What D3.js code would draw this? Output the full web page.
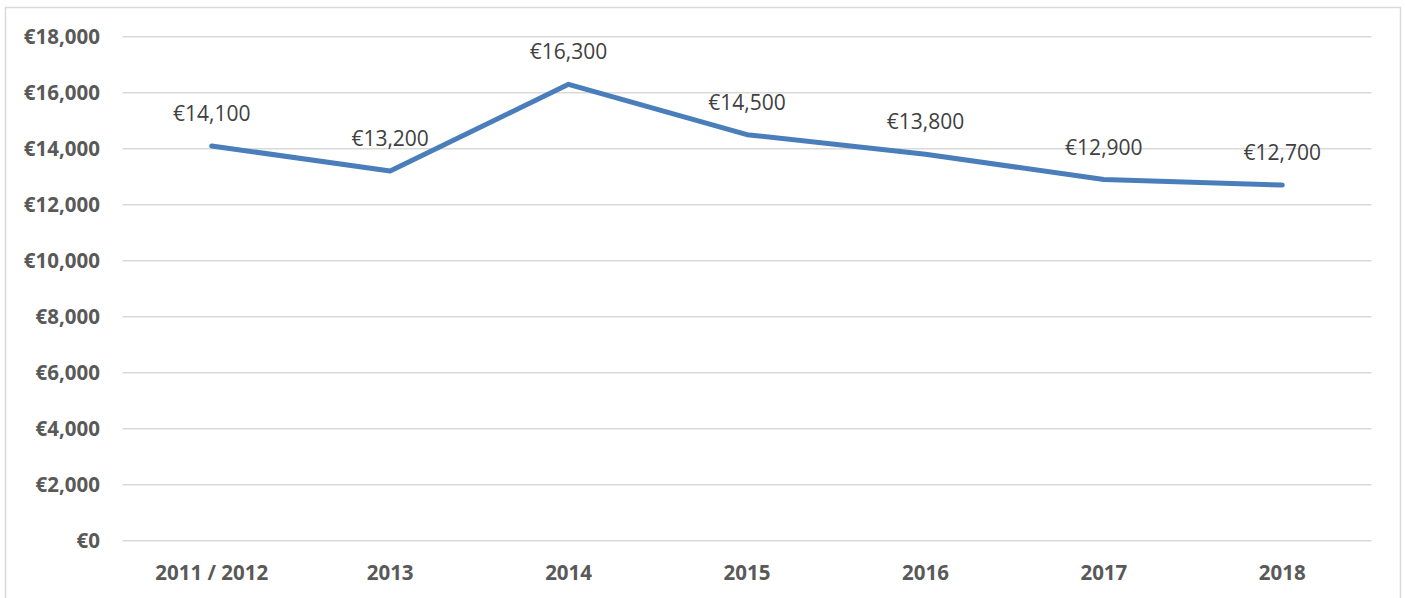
<!DOCTYPE html>
<html>
<head>
<meta charset="utf-8">
<script src="https://cdn.jsdelivr.net/npm/d3@7"></script>
<style>
  body { margin: 0; background: #fff; }
  text { font-family: "Open Sans", sans-serif; }
</style>
</head>
<body>
<script>
// data
var categories = ["2011 / 2012", "2013", "2014", "2015", "2016", "2017", "2018"];
var values = [14100, 13200, 16300, 14500, 13800, 12900, 12700];
var yTicks = [0, 2000, 4000, 6000, 8000, 10000, 12000, 14000, 16000, 18000];

const width = 1405, height = 598;
const plotLeft = 122.5, plotRight = 1371.5, plotTop = 36.7, plotBottom = 540.7;

const svg = d3.select("body")
    .append("svg")
    .attr("width", width)
    .attr("height", height);

// chart border (bottom edge is cut off)
svg.append("path")
    .attr("d", "M5.5," + height + " V7.5 H1400.5 V" + height)
    .attr("fill", "none")
    .attr("stroke", "#d9d9d9")
    .attr("stroke-width", 1.5);

var x = d3.scaleBand().domain(categories).range([plotLeft, plotRight]);
var y = d3.scaleLinear().domain([0, 18000]).range([plotBottom, plotTop]);

var euro = d => "€" + d3.format(",")(d);

// gridlines
svg.append("g")
    .selectAll("line")
    .data(yTicks)
    .enter()
    .append("line")
    .attr("x1", plotLeft)
    .attr("x2", plotRight)
    .attr("y1", d => y(d))
    .attr("y2", d => y(d))
    .attr("stroke", "#d9d9d9")
    .attr("stroke-width", 1.5);

// y axis labels
svg.append("g")
    .selectAll("text")
    .data(yTicks)
    .enter()
    .append("text")
    .attr("x", 100)
    .attr("y", d => y(d))
    .attr("dy", "0.36em")
    .attr("text-anchor", "end")
    .attr("font-size", "20.5px")
    .attr("font-weight", "bold")
    .attr("fill", "#595959")
    .text(euro);

// x axis labels
svg.append("g")
    .selectAll("text")
    .data(categories)
    .enter()
    .append("text")
    .attr("x", d => x(d) + x.bandwidth() / 2)
    .attr("y", 580)
    .attr("text-anchor", "middle")
    .attr("font-size", "20.5px")
    .attr("font-weight", "bold")
    .attr("fill", "#595959")
    .text(d => d);

// the line
var line = d3.line()
    .x((d, i) => x(categories[i]) + x.bandwidth() / 2)
    .y(d => y(d));

svg.append("path")
    .datum(values)
    .attr("d", line)
    .attr("fill", "none")
    .attr("stroke", "#4a7ebb")
    .attr("stroke-width", 5)
    .attr("stroke-linecap", "round")
    .attr("stroke-linejoin", "round");

// data labels
svg.append("g")
    .selectAll("text")
    .data(values)
    .enter()
    .append("text")
    .attr("x", (d, i) => x(categories[i]) + x.bandwidth() / 2)
    .attr("y", d => y(d) - 25)
    .attr("text-anchor", "middle")
    .attr("font-size", "21px")
    .attr("fill", "#404040")
    .text(euro);
</script>
</body>
</html>
